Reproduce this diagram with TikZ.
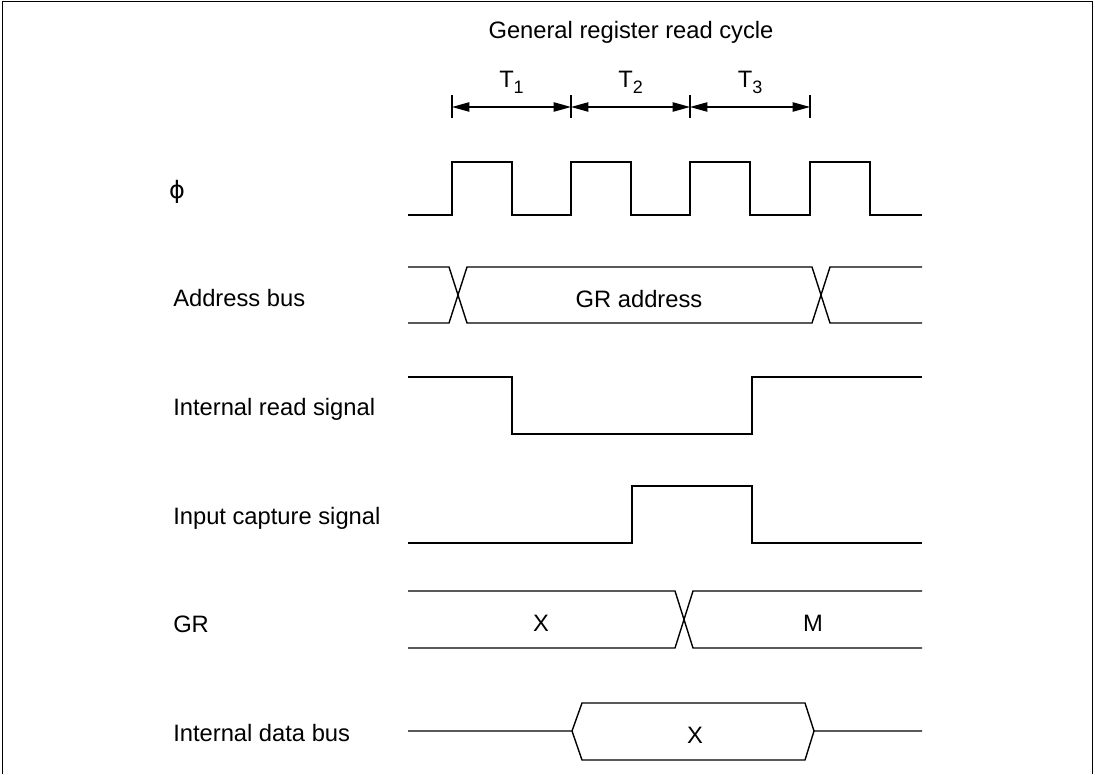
\documentclass[tikz,border=0pt]{standalone}
\usepackage{fontspec}
\setmainfont{Liberation Sans}
\newfontfamily\phifont{DejaVu Sans}
\usetikzlibrary{arrows.meta}
\tikzset{
  wave/.style={line width=1.05pt, line join=miter},
  lbl/.style={anchor=base west, inner sep=0pt, font=\fontsize{17.8}{20}\selectfont},
  val/.style={anchor=base, inner sep=0pt, font=\fontsize{17.8}{20}\selectfont},
  per/.style={anchor=base, inner sep=0pt, font=\fontsize{17.8}{20}\selectfont},
}
\newcommand{\persub}[1]{\raisebox{-4.5pt}{\fontsize{13.5}{15}\selectfont #1}}
\begin{document}
\begin{tikzpicture}[x=0.75pt, y=-0.75pt, >={Triangle[length=13pt, width=7pt]}]
        \useasboundingbox (0,0) rectangle (1095,774);
        % Frame
        \draw[line width=1.3pt] (2.5,774) -- (2.5,1.5) -- (1092.5,1.5) -- (1092.5,774);

        % Title and periods
        \node[val] (title) at (631,39) {General register read cycle};
        \foreach \n/\x in {0/452, 1/571, 2/690, 3/810} {
            \coordinate (t\n) at (\x,107);
            \draw[line width=0.9pt] (\x,95) -- (\x,118);
        }
        \draw[<->, line width=0.9pt] (t0) -- (t1) node[per, midway, yshift=14.5pt] (T1) {T\persub{1}};
        \draw[<->, line width=0.9pt] (t1) -- (t2) node[per, midway, yshift=14.5pt] (T2) {T\persub{2}};
        \draw[<->, line width=0.9pt] (t2) -- (t3) node[per, midway, yshift=14.5pt] (T3) {T\persub{3}};

        % Signal names
        \node[anchor=center, inner sep=0pt, font=\phifont\fontsize{18}{20}\selectfont] (phiLbl) at (177,192) {ϕ};
        \node[lbl] (addrLbl) at (173,306) {Address bus};
        \node[lbl] (readLbl) at (173,415) {Internal read signal};
        \node[lbl] (capLbl) at (173,524) {Input capture signal};
        \node[lbl] (grLbl) at (173,632) {GR};
        \node[lbl] (dataLbl) at (173,741) {Internal data bus};

        % Clock
        \draw[wave] (408,215) foreach \x in {452,571,690,810} { -- (\x,215) -- (\x,162) -- (\x+60,162) -- (\x+60,215) } -- (922,215);

        % Address bus
        \draw[wave] (408,267) -- (449,267) -- (467,323) -- (812,323) -- (830,267) -- (922,267);
        \draw[wave] (408,323) -- (449,323) -- (467,267) -- (812,267) -- (830,323) -- (922,323);
        \node[val] (addrVal) at (639,307) {GR address};

        % Internal read signal
        \draw[wave] (408,377) -- (512,377) -- (512,434) -- (752,434) -- (752,377) -- (922,377);

        % Input capture signal
        \draw[wave] (408,543) -- (632,543) -- (632,486) -- (752,486) -- (752,543) -- (922,543);

        % GR
        \draw[wave] (408,591) -- (675,591) -- (693,648) -- (922,648);
        \draw[wave] (408,648) -- (675,648) -- (693,591) -- (922,591);
        \node[val] (grOld) at (541,631) {X};
        \node[val] (grNew) at (813,631) {M};

        % Internal data bus
        \draw[wave] (408,731) -- (572,731) -- (582,703) -- (805,703) -- (814,731) -- (922,731);
        \draw[wave] (572,731) -- (582,760) -- (805,760) -- (814,731);
        \node[val] (dataVal) at (695,743) {X};
\end{tikzpicture}
\end{document}
